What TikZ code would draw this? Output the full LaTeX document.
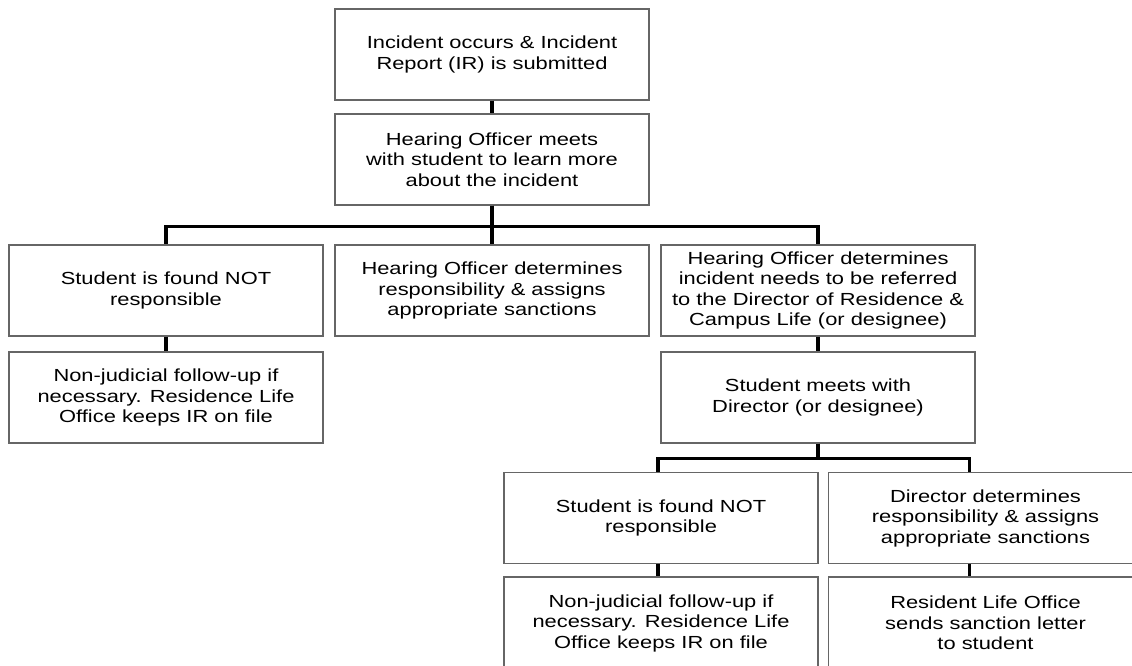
\documentclass[tikz,border=0pt]{standalone}
\usepackage{fontspec}
\setmainfont{Liberation Sans}[FakeStretch=1.25]
\usetikzlibrary{positioning}

\begin{document}
\begin{tikzpicture}[node distance=105pt,
    phase/.style={rectangle, draw=black!60, line width=1.3pt, fill=white, minimum width=314pt, minimum height=91pt, inner sep=0pt, align=center, font=\fontsize{17.5}{20.5}\selectfont},
    wire/.style={line width=3.5pt, black}]

\useasboundingbox (0,0) rectangle (1132pt,-666pt);
\clip (0,0) rectangle (1132pt,-666pt);

% Report and first meeting
\node[phase] (incident) at (492pt,-54.5pt) {Incident occurs \& Incident\\Report (IR) is submitted};
\node[phase, below of=incident] (meet) {Hearing Officer meets\\with student to learn more\\about the incident};

% Hearing Officer outcomes
\node[phase, below of=meet, node distance=131pt] (assign) {Hearing Officer determines\\responsibility \& assigns\\appropriate sanctions};
\node[phase, left of=assign, node distance=326pt] (notresp) {Student is found NOT\\responsible};
\node[phase, right of=assign, node distance=326pt] (refer) {Hearing Officer determines\\incident needs to be referred\\to the Director of Residence \&\\Campus Life (or designee)};

\node[phase, below of=notresp, node distance=107pt] (followup) {Non-judicial follow-up if\\necessary. Residence Life\\Office keeps IR on file};
\node[phase, below of=refer, node distance=107pt] (dirmeet) {Student meets with\\Director (or designee)};

% Director outcomes
\node[phase, below of=dirmeet, node distance=120.5pt, xshift=-157pt] (notresp2) {Student is found NOT\\responsible};
\node[phase, below of=dirmeet, node distance=120.5pt, xshift=167.5pt] (dirassign) {Director determines\\responsibility \& assigns\\appropriate sanctions};

\node[phase, below of=notresp2, node distance=105pt, minimum height=92pt] (followup2) {Non-judicial follow-up if\\necessary. Residence Life\\Office keeps IR on file};
\node[phase, below of=dirassign, node distance=105pt, minimum height=92pt] (letter) {Resident Life Office\\sends sanction letter\\to student};

% Connections
\draw[wire] (incident) -- (meet);
\draw[wire] (meet) -- (assign);
\draw[wire] (meet.south) -- ++(0,-21pt) -| (notresp.north);
\draw[wire] (meet.south) -- ++(0,-21pt) -| (refer.north);

\draw[wire] (notresp) -- (followup);
\draw[wire] (refer) -- (dirmeet);

\draw[wire] (dirmeet.south) -- ++(0,-15pt) -| ([xshift=-3pt]notresp2.north);
\draw[wire] (dirmeet.south) -- ++(0,-15pt) -| ([xshift=-16pt]dirassign.north);

\draw[wire] ([xshift=-3pt]notresp2.south) -- ([xshift=-3pt]followup2.north);
\draw[wire] ([xshift=-16pt]dirassign.south) -- ([xshift=-16pt]letter.north);

\end{tikzpicture}
\end{document}
